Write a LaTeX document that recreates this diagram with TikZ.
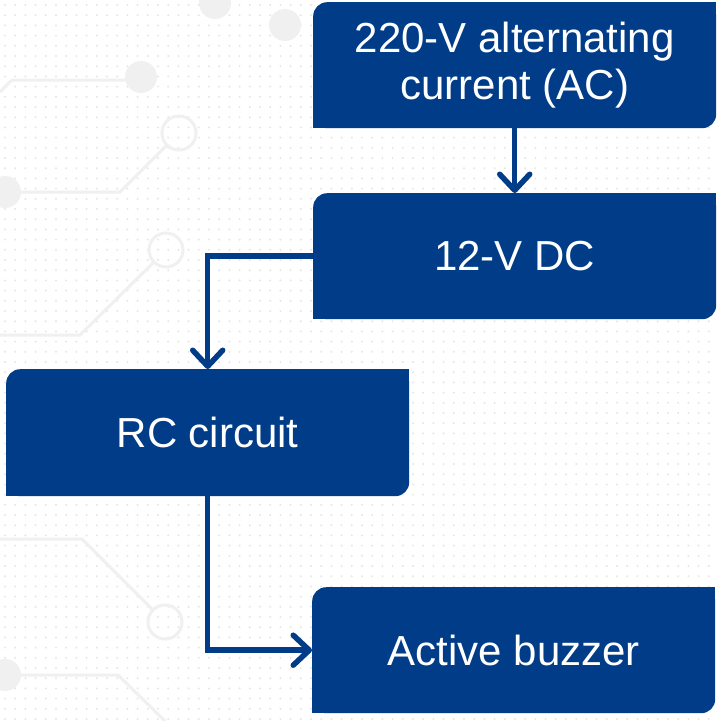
\documentclass[tikz,border=0pt]{standalone}
\usepackage{fontspec}
\setmainfont{Liberation Sans}
\usetikzlibrary{arrows.meta}
\definecolor{boxblue}{RGB}{0,60,136}
\definecolor{dotgray}{RGB}{230,230,230}
\definecolor{tracegray}{RGB}{240,240,240}
\begin{document}
\begin{tikzpicture}[x=1pt, y=-1pt]
      \fontsize{42}{47}\selectfont
      \tikzstyle{block}=[fill=boxblue, text=white, rounded corners=14pt, align=center,
                         inner sep=0pt, anchor=north west, minimum width=403pt, minimum height=126pt]
      \tikzstyle{flow}=[boxblue, line width=5.5pt, -{Straight Barb[length=16pt, width=30pt, round]}]
      \tikzstyle{trace}=[tracegray, line width=3pt]
      \useasboundingbox (0,0) rectangle (717,721);
      \fill[white] (0,0) rectangle (717,721);

      % dotted board and faint circuit traces
      \foreach \j in {0,...,70} {
        \fill[dotgray] \foreach \i in {0,...,69} {(5+10.2*\i, 5+10.2*\j) circle (1.1)};
      }
      \fill[tracegray] (141,77) circle (16) (215,3) circle (16) (285,25) circle (16)
                       (5,192) circle (16) (5,675) circle (16);
      \draw[trace] (0,92) -- (12,80) -- (128,80);
      \draw[trace] (179,133) circle (17) (167,145) -- (120,192) -- (0,192);
      \draw[trace] (166,250) circle (17) (154,262) -- (80,335) -- (0,335);
      \draw[trace] (0,539) -- (82,539) -- (153,610) (165,622) circle (17);
      \draw[trace] (5,675) -- (118,675) -- (165,721);

      \node[block] (ac)  at (313,2)   {220-V alternating\\current (AC)};
      \node[block] (dc)  at (313,193) {12-V DC};
      \node[block, minimum height=127pt] (rc) at (6,369) {RC circuit};
      \node[block] (buz) at (312,587) {Active buzzer};
      \foreach \n in {ac, dc, rc, buz} {
        \fill[boxblue] (\n.north east) rectangle ++(-16pt,-16pt);
        \fill[boxblue] (\n.south west) rectangle ++(16pt,16pt);
      }

      \draw[flow] (ac) -- (dc);
      \draw[flow] (dc.west) -| (rc.north);
      \draw[flow] (rc.south) |- (buz.west);
    \end{tikzpicture}
\end{document}
